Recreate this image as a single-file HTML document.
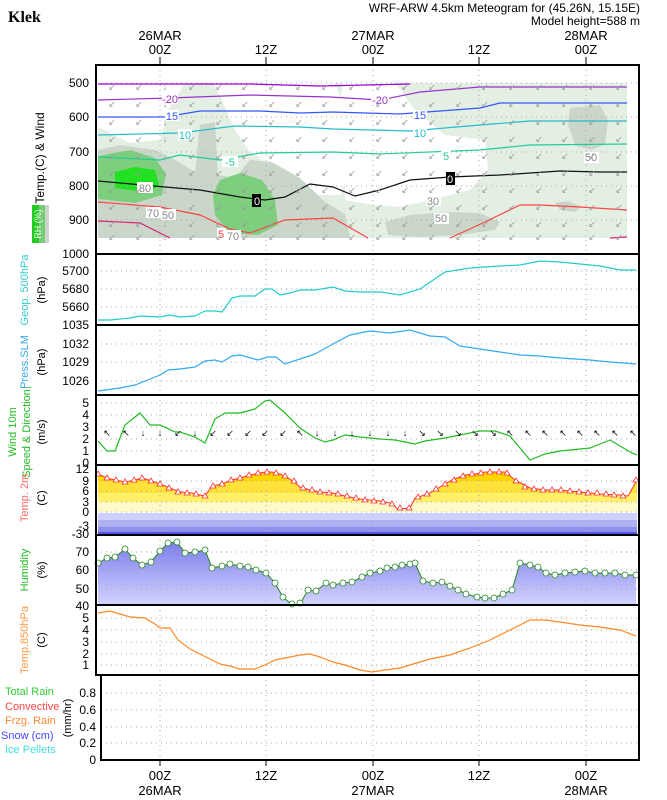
<!DOCTYPE html>
<html><head><meta charset="utf-8"><style>
html,body{margin:0;padding:0;background:#fff}
svg{display:block;font-family:"Liberation Sans",sans-serif}
</style></head><body>
<svg width="667" height="800" viewBox="0 0 667 800" xmlns="http://www.w3.org/2000/svg">
<defs>
<linearGradient id="tg" gradientUnits="userSpaceOnUse" x1="0" y1="465" x2="0" y2="535">
<stop offset="0" stop-color="#ffd700"/><stop offset="0.23" stop-color="#ffd700"/>
<stop offset="0.23" stop-color="#ffe23a"/><stop offset="0.4" stop-color="#ffe23a"/>
<stop offset="0.4" stop-color="#fff06a"/><stop offset="0.53" stop-color="#fff06a"/>
<stop offset="0.53" stop-color="#fff8c8"/><stop offset="0.67" stop-color="#fff8c8"/>
<stop offset="0.67" stop-color="#ffffff"/><stop offset="1" stop-color="#ffffff"/>
</linearGradient>
<linearGradient id="hg" x1="0" y1="0" x2="0" y2="1">
<stop offset="0" stop-color="#7c7cec"/><stop offset="1" stop-color="#d4d4ff"/>
</linearGradient>
<clipPath id="c1"><rect x="96" y="66" width="543" height="188"/></clipPath>
</defs>

<!-- Title -->
<text x="8" y="22" font-family="Liberation Serif,serif" font-weight="bold" font-size="16">Klek</text>
<text x="640" y="12" font-size="12" text-anchor="end">WRF-ARW 4.5km Meteogram for (45.26N, 15.15E)</text>
<text x="640" y="25" font-size="12" text-anchor="end">Model height=588 m</text>
<g font-size="13" text-anchor="middle">
<text x="160" y="40">26MAR</text><text x="160" y="54">00Z</text>
<text x="266" y="54">12Z</text>
<text x="373" y="40">27MAR</text><text x="373" y="54">00Z</text>
<text x="479" y="54">12Z</text>
<text x="586" y="40">28MAR</text><text x="586" y="54">00Z</text>
</g>
<g stroke="#000" stroke-width="1"><line x1="160" y1="57" x2="160" y2="65"/><line x1="266" y1="57" x2="266" y2="65"/><line x1="373" y1="57" x2="373" y2="65"/><line x1="479" y1="57" x2="479" y2="65"/><line x1="586" y1="57" x2="586" y2="65"/></g>

<!-- Panel 1 -->
<g clip-path="url(#c1)">
<rect x="98" y="83" width="529" height="155" fill="#e4efe4"/>
<polygon fill="#fff" points="98,83 185,83 168,110 160,140 130,143 98,127"/>
<polygon fill="#fff" points="213,83 335,83 345,110 350,170 340,195 310,195 285,175 250,152 235,130 222,100"/>
<polygon fill="#fff" points="343,83 395,83 415,110 445,135 485,140 488,170 470,190 430,200 400,207 375,205 345,200 345,160 338,120"/>
<polygon fill="#e4efe4" points="395,83 410,83 430,105 458,128 450,135 420,112"/>
<polygon fill="#c9d6c9" points="98,150 120,145 155,150 172,158 195,172 200,125 215,122 218,175 235,178 250,160 272,162 300,178 325,202 345,214 350,238 98,238"/>
<polygon fill="#c9d6c9" points="385,222 410,215 450,212 480,213 500,222 495,230 460,235 420,237 388,235"/>
<polygon fill="#c9d6c9" points="570,108 600,105 608,120 605,145 590,150 575,145 568,125"/>
<polygon fill="#c9d6c9" points="555,203 568,201 582,207 575,212 560,210"/>
<polygon fill="#7dcf7d" points="98,156 130,150 155,158 166,174 162,195 135,203 98,199"/>
<polygon fill="#22e022" points="115,172 135,167 155,170 159,185 150,192 130,190 115,188"/>
<polygon fill="#7dcf7d" points="220,180 240,173 262,180 275,200 278,225 258,235 230,233 215,215 213,195"/>
</g>
<!-- grid -->
<g stroke="#aaa" stroke-dasharray="1,4" stroke-width="1">
<line x1="96" y1="83" x2="639" y2="83"/><line x1="96" y1="117" x2="639" y2="117"/><line x1="96" y1="152" x2="639" y2="152"/><line x1="96" y1="186" x2="639" y2="186"/><line x1="96" y1="220" x2="639" y2="220"/>
<line x1="160" y1="65" x2="160" y2="254"/><line x1="266" y1="65" x2="266" y2="254"/><line x1="373" y1="65" x2="373" y2="254"/><line x1="479" y1="65" x2="479" y2="254"/><line x1="586" y1="65" x2="586" y2="254"/>
</g>
<!-- contours -->
<g fill="none" stroke-width="1.2">
<polyline stroke="#9900cc" points="98,84 250,84 320,86 410,84"/>
<polyline stroke="#9933cc" points="98,100 170,98 250,95 330,97 380,100 420,92 480,87 627,87"/>
<polyline stroke="#3355ff" points="98,117 165,117 200,111 260,111 300,113 333,112 400,114 480,108 500,103 627,103"/>
<polyline stroke="#22bbcc" points="98,135 180,133 235,126 300,127 333,129 410,131 480,125 530,121 627,121"/>
<polyline stroke="#22cc99" points="98,157 160,160 180,155 220,160 260,153 333,152 380,154 480,150 530,145 627,144"/>
<polyline stroke="#111" points="98,181 165,187 200,190 240,197 265,200 285,197 310,184 333,187 355,196 380,190 410,180 450,177 500,175 560,171 600,172 627,172"/>
<polyline stroke="#ff4444" points="98,202 160,207 200,215 230,229 250,233 285,220 333,218 368,238"/>
<polyline stroke="#ff4444" points="450,238 485,222 520,205 540,205 580,207 627,210"/>
<polyline stroke="#dd2277" points="98,221 140,223 170,238"/>
<polyline stroke="#dd2277" points="610,238 627,237"/>
</g>
<g font-size="11" text-anchor="middle">
<rect x="162" y="93" width="16" height="11" fill="#fff"/><text x="170" y="103" fill="#9933cc">-20</text>
<rect x="165" y="110" width="14" height="11" fill="#fff"/><text x="172" y="120" fill="#3355ff">15</text>
<rect x="178" y="129" width="14" height="11" fill="#fff"/><text x="185" y="139" fill="#22bbcc">10</text>
<rect x="222" y="156" width="16" height="11" fill="#fff"/><text x="230" y="166" fill="#22cc99">-5</text>
<rect x="137" y="182" width="16" height="11" fill="#fff"/><text x="145" y="192" fill="#888">80</text>
<rect x="252" y="194" width="9" height="13" fill="#000"/><text x="257" y="205" fill="#fff">0</text>
<rect x="146" y="207" width="15" height="11" fill="#fff"/><text x="153" y="217" fill="#888">70</text>
<rect x="161" y="209" width="15" height="11" fill="#fff"/><text x="168" y="219" fill="#888">50</text>
<rect x="217" y="228" width="9" height="11" fill="#fff"/><text x="221" y="238" fill="#ff4444">5</text>
<rect x="226" y="230" width="15" height="11" fill="#fff"/><text x="233" y="240" fill="#888">70</text>
<rect x="371" y="94" width="18" height="11" fill="#fff"/><text x="380" y="104" fill="#9933cc">-20</text>
<rect x="413" y="110" width="14" height="11" fill="#fff"/><text x="420" y="119" fill="#3355ff">15</text>
<rect x="413" y="127" width="14" height="11" fill="#fff"/><text x="420" y="137" fill="#22bbcc">10</text>
<rect x="441" y="150" width="10" height="11" fill="#fff"/><text x="446" y="160" fill="#22cc99">5</text>
<rect x="446" y="172" width="9" height="13" fill="#000"/><text x="450" y="183" fill="#fff">0</text>
<rect x="426" y="195" width="15" height="11" fill="#fff"/><text x="433" y="205" fill="#888">30</text>
<rect x="434" y="213" width="15" height="11" fill="#fff"/><text x="441" y="222" fill="#888">50</text>
<rect x="584" y="152" width="15" height="11" fill="#fff"/><text x="591" y="161" fill="#888">50</text>
</g>
<!-- wind arrows grid -->
<g font-size="9" fill="#999" text-anchor="middle" id="wa">
<text x="112" y="90">↙</text><text x="139" y="90">↙</text><text x="165" y="90">↓</text><text x="192" y="90">↙</text><text x="219" y="90">↙</text><text x="245" y="90">↙</text><text x="272" y="90">↙</text><text x="299" y="90">↙</text><text x="325" y="90">↙</text><text x="352" y="90">↙</text><text x="379" y="90">↙</text><text x="405" y="90">↙</text><text x="432" y="90">↙</text><text x="459" y="90">↙</text><text x="485" y="90">↙</text><text x="512" y="90">↙</text><text x="539" y="90">↙</text><text x="565" y="90">↙</text><text x="592" y="90">↙</text><text x="619" y="90">↙</text>
</g>
<use href="#wa" y="17"/><use href="#wa" y="35"/><use href="#wa" y="52"/><use href="#wa" y="69"/><use href="#wa" y="86"/><use href="#wa" y="103"/><use href="#wa" y="120"/><use href="#wa" y="137"/><use href="#wa" y="150"/>
<rect x="96" y="65" width="543" height="189" fill="none" stroke="#000" stroke-width="2"/>
<g font-size="12" text-anchor="end">
<text x="89" y="87">500</text><text x="89" y="121">600</text><text x="89" y="156">700</text><text x="89" y="190">800</text><text x="89" y="224">900</text><text x="89" y="258">1000</text>
</g>
<text transform="translate(44,158) rotate(-90)" font-size="12" text-anchor="middle">Temp.(C) &amp; Wind</text>
<rect x="32" y="205" width="7" height="38" fill="#22cc22"/><rect x="39" y="205" width="6" height="38" fill="#77cc77"/><rect x="45" y="205" width="4" height="38" fill="#c9d6c9"/>
<text transform="translate(41,224) rotate(-90)" font-size="9" fill="#fff" text-anchor="middle">RH (%)</text>

<!-- Panel 2 -->
<g stroke="#aaa" stroke-dasharray="1,4"><line x1="96" y1="271" x2="639" y2="271"/><line x1="96" y1="289" x2="639" y2="289"/><line x1="96" y1="307" x2="639" y2="307"/>
<line x1="160" y1="254" x2="160" y2="325"/><line x1="266" y1="254" x2="266" y2="325"/><line x1="373" y1="254" x2="373" y2="325"/><line x1="479" y1="254" x2="479" y2="325"/><line x1="586" y1="254" x2="586" y2="325"/></g>
<polyline fill="none" stroke="#22cccc" stroke-width="1.2" points="98,320 110,320 130,318 140,316 160,317 170,315 180,317 195,316 205,311 215,311 222,312 232,298 240,296 255,296 265,289 272,289 280,295 290,293 300,290 315,290 333,287 345,291 360,292 380,292 400,295 420,289 445,272 470,268 500,266 520,265 540,261 560,262 580,264 600,266 620,270 636,270"/>
<rect x="96" y="254" width="543" height="71" fill="none" stroke="#000" stroke-width="2"/>
<g font-size="12" text-anchor="end"><text x="89" y="275">5700</text><text x="89" y="293">5680</text><text x="89" y="311">5660</text></g>
<text transform="translate(28,290) rotate(-90)" font-size="11" fill="#33cccc" text-anchor="middle">Geop. 500hPa</text>
<text transform="translate(45,290) rotate(-90)" font-size="11" text-anchor="middle">(hPa)</text>

<!-- Panel 3 -->
<g stroke="#aaa" stroke-dasharray="1,4"><line x1="96" y1="344" x2="639" y2="344"/><line x1="96" y1="362" x2="639" y2="362"/><line x1="96" y1="381" x2="639" y2="381"/>
<line x1="160" y1="325" x2="160" y2="395"/><line x1="266" y1="325" x2="266" y2="395"/><line x1="373" y1="325" x2="373" y2="395"/><line x1="479" y1="325" x2="479" y2="395"/><line x1="586" y1="325" x2="586" y2="395"/></g>
<polyline fill="none" stroke="#33aaee" stroke-width="1.2" points="98,391 120,388 135,385 150,379 160,375 168,370 180,369 195,367 205,361 215,360 222,362 232,356 240,355 258,360 268,357 276,357 285,364 300,359 315,354 333,344 350,335 370,331 390,333 410,330 430,336 445,337 460,346 480,349 500,352 520,355 540,356 560,358 590,360 610,362 636,364"/>
<rect x="96" y="325" width="543" height="70" fill="none" stroke="#000" stroke-width="2"/>
<g font-size="12" text-anchor="end"><text x="89" y="329">1035</text><text x="89" y="348">1032</text><text x="89" y="366">1029</text><text x="89" y="385">1026</text></g>
<text transform="translate(28,362) rotate(-90)" font-size="11" fill="#33aaee" text-anchor="middle">Press.SLM</text>
<text transform="translate(45,362) rotate(-90)" font-size="11" text-anchor="middle">(hPa)</text>

<!-- Panel 4 -->
<g stroke="#aaa" stroke-dasharray="1,4"><line x1="96" y1="403" x2="639" y2="403"/><line x1="96" y1="415" x2="639" y2="415"/><line x1="96" y1="427" x2="639" y2="427"/><line x1="96" y1="439" x2="639" y2="439"/><line x1="96" y1="451" x2="639" y2="451"/>
<line x1="160" y1="395" x2="160" y2="465"/><line x1="266" y1="395" x2="266" y2="465"/><line x1="373" y1="395" x2="373" y2="465"/><line x1="479" y1="395" x2="479" y2="465"/><line x1="586" y1="395" x2="586" y2="465"/></g>
<polyline fill="none" stroke="#22bb22" stroke-width="1.2" points="98,441 107,451 115,451 125,425 140,413 150,425 160,425 175,432 180,432 195,437 205,443 215,419 225,413 240,413 255,409 265,401 270,400 285,413 300,428 315,438 325,442 333,440 345,435 360,437 380,439 395,440 415,444 425,441 445,438 460,435 480,431 495,431 510,436 530,460 545,454 560,451 570,450 590,448 610,440 630,452 637,455"/>
<g font-size="9" text-anchor="middle"><text x="107" y="436">↖</text><text x="126" y="436">↖</text><text x="143" y="436">↓</text><text x="160" y="436">↓</text><text x="178" y="436">↙</text><text x="195" y="436">↓</text><text x="213" y="436">↙</text><text x="230" y="436">↙</text><text x="248" y="436">↙</text><text x="265" y="436">↙</text><text x="283" y="436">↙</text><text x="300" y="436">↖</text><text x="317" y="436">↓</text><text x="335" y="436">↓</text><text x="352" y="436">↓</text><text x="370" y="436">↓</text><text x="388" y="436">↓</text><text x="405" y="436">↓</text><text x="422" y="436">↘</text><text x="440" y="436">↘</text><text x="458" y="436">↘</text><text x="475" y="436">↘</text><text x="493" y="436">↘</text><text x="510" y="436">↖</text><text x="528" y="436">↖</text><text x="545" y="436">↖</text><text x="563" y="436">↖</text><text x="580" y="436">↖</text><text x="597" y="436">↖</text><text x="615" y="436">↖</text><text x="633" y="436">↖</text></g>
<rect x="96" y="395" width="543" height="70" fill="none" stroke="#000" stroke-width="2"/>
<g font-size="12" text-anchor="end"><text x="89" y="407">5</text><text x="89" y="419">4</text><text x="89" y="431">3</text><text x="89" y="443">2</text><text x="89" y="455">1</text><text x="89" y="467">0</text></g>
<text transform="translate(16,432) rotate(-90)" font-size="11" fill="#22bb22" text-anchor="middle">Wind 10m</text>
<text transform="translate(30,432) rotate(-90)" font-size="11" fill="#22bb22" text-anchor="middle">Speed &amp; Direction,</text>
<text transform="translate(45,432) rotate(-90)" font-size="11" text-anchor="middle">(m/s)</text>

<!-- Panel 5 -->
<rect x="98" y="513" width="539" height="7" fill="#d0d0ff"/><rect x="98" y="520" width="539" height="7" fill="#b0b0f4"/><rect x="98" y="527" width="539" height="5" fill="#8f8fee"/><rect x="98" y="532" width="539" height="3" fill="#5555e0"/>
<polygon fill="url(#tg)" points="98,512 98,474 107,478 115,480 125,482 135,480 142,478 152,481 160,484 170,488 180,492 192,493 200,495 205,496 212,486 222,484 232,480 240,478 250,475 260,473 265,472 272,472 280,474 290,479 300,487 310,490 320,492 333,493 345,496 360,499 370,500 380,501 390,503 398,509 410,508 415,498 428,494 440,487 452,480 465,475 475,474 485,472 495,472 505,472 515,480 530,488 545,490 560,490 580,492 600,494 620,495 628,496 637,480 637,512"/>
<g stroke="#aaa" stroke-dasharray="1,4"><line x1="96" y1="481" x2="639" y2="481"/><line x1="96" y1="491" x2="639" y2="491"/><line x1="96" y1="502" x2="639" y2="502"/><line x1="96" y1="512" x2="639" y2="512"/><line x1="96" y1="526" x2="639" y2="526"/>
<line x1="160" y1="465" x2="160" y2="535"/><line x1="266" y1="465" x2="266" y2="535"/><line x1="373" y1="465" x2="373" y2="535"/><line x1="479" y1="465" x2="479" y2="535"/><line x1="586" y1="465" x2="586" y2="535"/></g>
<polyline fill="none" stroke="#ff3333" stroke-width="1" points="98,474 107,478 115,480 125,482 135,480 142,478 152,481 160,484 170,488 180,492 192,493 200,495 205,496 212,486 222,484 232,480 240,478 250,475 260,473 265,472 272,472 280,474 290,479 300,487 310,490 320,492 333,493 345,496 360,499 370,500 380,501 390,503 398,509 410,508 415,498 428,494 440,487 452,480 465,475 475,474 485,472 495,472 505,472 515,480 530,488 545,490 560,490 580,492 600,494 620,495 628,496 637,480"/>
<g fill="#fff" stroke="#ff3333" stroke-width="0.8" id="tri">
<path d="M98,471l3,5h-6z"/><path d="M107,475l3,5h-6z"/><path d="M116,477l3,5h-6z"/><path d="M125,479l3,5h-6z"/><path d="M134,477l3,5h-6z"/><path d="M142,475l3,5h-6z"/><path d="M151,478l3,5h-6z"/><path d="M160,481l3,5h-6z"/><path d="M169,485l3,5h-6z"/><path d="M178,489l3,5h-6z"/><path d="M187,490l3,5h-6z"/><path d="M196,491l3,5h-6z"/><path d="M205,493l3,5h-6z"/><path d="M213,483l3,5h-6z"/><path d="M222,481l3,5h-6z"/><path d="M231,477l3,5h-6z"/><path d="M240,475l3,5h-6z"/><path d="M249,472l3,5h-6z"/><path d="M258,470l3,5h-6z"/><path d="M267,469l3,5h-6z"/><path d="M276,470l3,5h-6z"/><path d="M285,473l3,5h-6z"/><path d="M294,478l3,5h-6z"/><path d="M303,485l3,5h-6z"/><path d="M312,487l3,5h-6z"/><path d="M320,489l3,5h-6z"/><path d="M329,490l3,5h-6z"/><path d="M338,491l3,5h-6z"/><path d="M347,493l3,5h-6z"/><path d="M356,495l3,5h-6z"/><path d="M365,497l3,5h-6z"/><path d="M374,498l3,5h-6z"/><path d="M383,499l3,5h-6z"/><path d="M392,501l3,5h-6z"/><path d="M400,505l3,5h-6z"/><path d="M409,505l3,5h-6z"/><path d="M418,494l3,5h-6z"/><path d="M427,491l3,5h-6z"/><path d="M436,486l3,5h-6z"/><path d="M445,481l3,5h-6z"/><path d="M454,477l3,5h-6z"/><path d="M463,473l3,5h-6z"/><path d="M472,471l3,5h-6z"/><path d="M481,470l3,5h-6z"/><path d="M490,469l3,5h-6z"/><path d="M499,469l3,5h-6z"/><path d="M507,470l3,5h-6z"/><path d="M516,478l3,5h-6z"/><path d="M525,484l3,5h-6z"/><path d="M534,486l3,5h-6z"/><path d="M543,487l3,5h-6z"/><path d="M552,487l3,5h-6z"/><path d="M561,487l3,5h-6z"/><path d="M570,488l3,5h-6z"/><path d="M579,489l3,5h-6z"/><path d="M588,490l3,5h-6z"/><path d="M597,490l3,5h-6z"/><path d="M606,491l3,5h-6z"/><path d="M614,492l3,5h-6z"/><path d="M623,493l3,5h-6z"/><path d="M636,477l3,5h-6z"/>
</g>
<rect x="96" y="465" width="543" height="70" fill="none" stroke="#000" stroke-width="2"/>
<g font-size="12" text-anchor="end"><text x="89" y="473">12</text><text x="89" y="485">9</text><text x="89" y="495">6</text><text x="89" y="506">3</text><text x="89" y="516">0</text><text x="89" y="530">-3</text><text x="89" y="538">-30</text></g>
<text transform="translate(28,498) rotate(-90)" font-size="11" fill="#ff6666" text-anchor="middle">Temp. 2m</text>
<text transform="translate(45,498) rotate(-90)" font-size="11" text-anchor="middle">(C)</text>

<!-- Panel 6 -->
<polygon fill="url(#hg)" points="98,605 98,563 107,558 115,557 125,549 133,558 142,565 151,562 160,551 168,543 177,542 185,553 195,552 205,550 212,568 222,566 230,564 240,566 248,567 256,570 266,573 275,583 283,597 292,605 300,604 308,590 316,591 326,583 333,585 343,583 352,582 362,577 370,573 380,571 387,568 395,567 402,565 410,564 415,563 423,581 433,583 442,582 450,586 458,590 466,594 477,597 485,598 494,598 503,594 512,590 520,563 530,565 538,567 546,573 555,575 565,573 575,572 585,571 595,573 605,573 615,573 625,575 636,575 636,605"/>
<g stroke="#aaa" stroke-dasharray="1,4"><line x1="96" y1="552" x2="639" y2="552"/><line x1="96" y1="570" x2="639" y2="570"/><line x1="96" y1="589" x2="639" y2="589"/>
<line x1="160" y1="535" x2="160" y2="605"/><line x1="266" y1="535" x2="266" y2="605"/><line x1="373" y1="535" x2="373" y2="605"/><line x1="479" y1="535" x2="479" y2="605"/><line x1="586" y1="535" x2="586" y2="605"/></g>
<polyline fill="none" stroke="#228822" stroke-width="1" points="98,563 107,558 115,557 125,549 133,558 142,565 151,562 160,551 168,543 177,542 185,553 195,552 205,550 212,568 222,566 230,564 240,566 248,567 256,570 266,573 275,583 283,597 292,605 300,604 308,590 316,591 326,583 333,585 343,583 352,582 362,577 370,573 380,571 387,568 395,567 402,565 410,564 415,563 423,581 433,583 442,582 450,586 458,590 466,594 477,597 485,598 494,598 503,594 512,590 520,563 530,565 538,567 546,573 555,575 565,573 575,572 585,571 595,573 605,573 615,573 625,575 636,575"/>
<g fill="#fff" stroke="#228822" stroke-width="0.8">
<circle cx="98" cy="563" r="3"/><circle cx="107" cy="558" r="3"/><circle cx="115" cy="557" r="3"/><circle cx="125" cy="549" r="3"/><circle cx="133" cy="558" r="3"/><circle cx="142" cy="565" r="3"/><circle cx="151" cy="562" r="3"/><circle cx="160" cy="551" r="3"/><circle cx="168" cy="543" r="3"/><circle cx="177" cy="542" r="3"/><circle cx="185" cy="553" r="3"/><circle cx="195" cy="552" r="3"/><circle cx="205" cy="550" r="3"/><circle cx="212" cy="568" r="3"/><circle cx="222" cy="566" r="3"/><circle cx="230" cy="564" r="3"/><circle cx="240" cy="566" r="3"/><circle cx="248" cy="567" r="3"/><circle cx="256" cy="570" r="3"/><circle cx="266" cy="573" r="3"/><circle cx="275" cy="583" r="3"/><circle cx="283" cy="597" r="3"/><circle cx="292" cy="604" r="3"/><circle cx="300" cy="603" r="3"/><circle cx="308" cy="590" r="3"/><circle cx="316" cy="591" r="3"/><circle cx="326" cy="583" r="3"/><circle cx="333" cy="585" r="3"/><circle cx="343" cy="583" r="3"/><circle cx="352" cy="582" r="3"/><circle cx="362" cy="577" r="3"/><circle cx="370" cy="573" r="3"/><circle cx="380" cy="571" r="3"/><circle cx="387" cy="568" r="3"/><circle cx="395" cy="567" r="3"/><circle cx="402" cy="565" r="3"/><circle cx="410" cy="564" r="3"/><circle cx="415" cy="563" r="3"/><circle cx="423" cy="581" r="3"/><circle cx="433" cy="583" r="3"/><circle cx="442" cy="582" r="3"/><circle cx="450" cy="586" r="3"/><circle cx="458" cy="590" r="3"/><circle cx="466" cy="594" r="3"/><circle cx="477" cy="597" r="3"/><circle cx="485" cy="598" r="3"/><circle cx="494" cy="598" r="3"/><circle cx="503" cy="594" r="3"/><circle cx="512" cy="590" r="3"/><circle cx="520" cy="563" r="3"/><circle cx="530" cy="565" r="3"/><circle cx="538" cy="567" r="3"/><circle cx="546" cy="573" r="3"/><circle cx="555" cy="575" r="3"/><circle cx="565" cy="573" r="3"/><circle cx="575" cy="572" r="3"/><circle cx="585" cy="571" r="3"/><circle cx="595" cy="573" r="3"/><circle cx="605" cy="573" r="3"/><circle cx="615" cy="573" r="3"/><circle cx="625" cy="575" r="3"/><circle cx="636" cy="575" r="3"/>
</g>
<rect x="96" y="535" width="543" height="70" fill="none" stroke="#000" stroke-width="2"/>
<g font-size="12" text-anchor="end"><text x="89" y="556">70</text><text x="89" y="574">60</text><text x="89" y="593">50</text><text x="89" y="610">40</text></g>
<text transform="translate(28,570) rotate(-90)" font-size="11" fill="#22bb22" text-anchor="middle">Humidity</text>
<text transform="translate(45,570) rotate(-90)" font-size="11" text-anchor="middle">(%)</text>

<!-- Panel 7 -->
<g stroke="#aaa" stroke-dasharray="1,4"><line x1="96" y1="618" x2="639" y2="618"/><line x1="96" y1="630" x2="639" y2="630"/><line x1="96" y1="642" x2="639" y2="642"/><line x1="96" y1="654" x2="639" y2="654"/><line x1="96" y1="665" x2="639" y2="665"/>
<line x1="160" y1="605" x2="160" y2="675"/><line x1="266" y1="605" x2="266" y2="675"/><line x1="373" y1="605" x2="373" y2="675"/><line x1="479" y1="605" x2="479" y2="675"/><line x1="586" y1="605" x2="586" y2="675"/></g>
<polyline fill="none" stroke="#ff8822" stroke-width="1.2" points="98,613 110,611 120,614 130,617 145,618 155,624 160,628 170,628 178,640 190,649 200,654 210,659 220,664 230,666 240,669 255,669 265,665 275,660 290,657 300,655 310,654 320,657 333,662 345,665 360,670 372,672 385,670 400,668 410,665 430,659 450,655 470,648 490,640 510,630 530,620 545,620 560,622 580,625 600,627 620,630 636,636"/>
<rect x="96" y="605" width="543" height="70" fill="none" stroke="#000" stroke-width="2"/>
<g font-size="12" text-anchor="end"><text x="89" y="622">5</text><text x="89" y="634">4</text><text x="89" y="646">3</text><text x="89" y="658">2</text><text x="89" y="669">1</text></g>
<text transform="translate(28,640) rotate(-90)" font-size="11" fill="#ff9944" text-anchor="middle">Temp.850hPa</text>
<text transform="translate(45,640) rotate(-90)" font-size="11" text-anchor="middle">(C)</text>

<!-- Panel 8 -->
<g stroke="#aaa" stroke-dasharray="1,4"><line x1="101" y1="693" x2="639" y2="693"/><line x1="101" y1="710" x2="639" y2="710"/><line x1="101" y1="727" x2="639" y2="727"/><line x1="101" y1="743" x2="639" y2="743"/>
<line x1="160" y1="675" x2="160" y2="760"/><line x1="266" y1="675" x2="266" y2="760"/><line x1="373" y1="675" x2="373" y2="760"/><line x1="479" y1="675" x2="479" y2="760"/><line x1="586" y1="675" x2="586" y2="760"/></g>
<rect x="101" y="675" width="538" height="85" fill="none" stroke="#000" stroke-width="2"/>
<g stroke="#000"><line x1="160" y1="760" x2="160" y2="766"/><line x1="266" y1="760" x2="266" y2="766"/><line x1="373" y1="760" x2="373" y2="766"/><line x1="479" y1="760" x2="479" y2="766"/><line x1="586" y1="760" x2="586" y2="766"/></g>
<g font-size="12" text-anchor="end"><text x="96" y="697">0.8</text><text x="96" y="714">0.6</text><text x="96" y="731">0.4</text><text x="96" y="747">0.2</text><text x="96" y="764">0</text></g>
<text transform="translate(71,718) rotate(-90)" font-size="11" text-anchor="middle">(mm/hr)</text>
<g font-size="11">
<text x="5" y="695" fill="#33cc33">Total Rain</text>
<text x="5" y="710" fill="#ff4444">Convective</text>
<text x="5" y="724" fill="#ff8833">Frzg. Rain</text>
<text x="1" y="739" fill="#4444ff">Snow (cm)</text>
<text x="5" y="753" fill="#44dddd">Ice Pellets</text>
</g>
<g font-size="13" text-anchor="middle">
<text x="160" y="780">00Z</text><text x="160" y="795">26MAR</text>
<text x="266" y="780">12Z</text>
<text x="373" y="780">00Z</text><text x="373" y="795">27MAR</text>
<text x="479" y="780">12Z</text>
<text x="586" y="780">00Z</text><text x="586" y="795">28MAR</text>
</g>
</svg>
</body></html>
